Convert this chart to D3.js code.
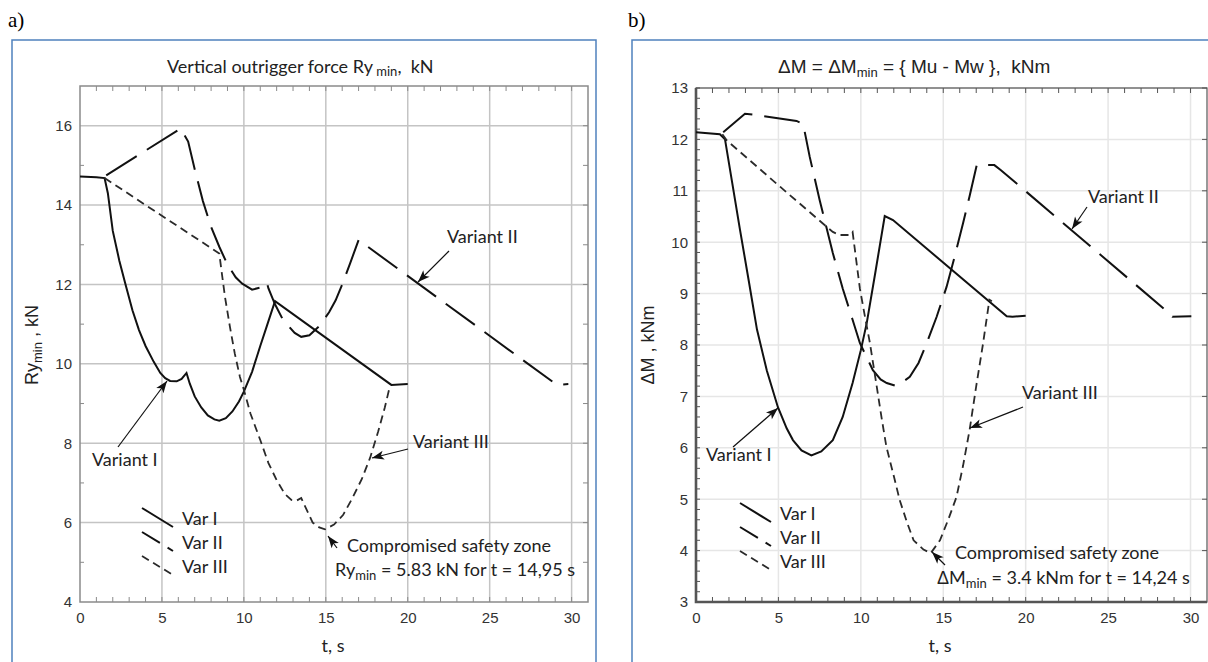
<!DOCTYPE html>
<html>
<head>
<meta charset="utf-8">
<script src="https://cdn.jsdelivr.net/npm/d3@7"></script>
<style>
  body { margin: 0; background: #fff; }
  text { white-space: pre; }
</style>
</head>
<body>
<svg id="chart" width="1208" height="662"></svg>
<script>
// ---- data: [t (s), value] ----
const xTicks = [0, 5, 10, 15, 20, 25, 30];
const yTicksA = [4, 6, 8, 10, 12, 14, 16];
const yTicksB = [3, 4, 5, 6, 7, 8, 9, 10, 11, 12, 13];

// a) Ry_min, kN
const ryVar1 = [[0,14.72],[1.0,14.70],[1.5,14.68],[1.7,14.3],[2.0,13.35],[2.4,12.6],[2.75,12.04],[3.2,11.35],[3.6,10.85],
  [4.0,10.45],[4.5,10.05],[4.9,9.77],[5.2,9.64],[5.5,9.57],[5.9,9.56],[6.2,9.62],[6.5,9.77],[6.7,9.5],[7.0,9.18],[7.4,8.9],
  [7.8,8.7],[8.2,8.6],[8.5,8.57],[8.9,8.63],[9.3,8.8],[9.7,9.05],[10.0,9.3],[10.5,9.8],[11.0,10.45],[11.4,10.95],[11.9,11.58],
  [19.0,9.47],[20.0,9.49]];
const ryVar2 = [[1.6,14.75],[6.15,15.93],[6.6,15.6],[7.0,14.9],[7.5,14.1],[8.0,13.45],[8.5,12.95],[9.0,12.5],[9.5,12.18],
  [9.9,12.02],[10.5,11.87],[11.0,11.92],[11.4,12.05],[11.5,11.9],[11.9,11.5],[12.4,11.1],[13.1,10.78],[13.5,10.68],[14.0,10.72],
  [14.6,10.95],[15.2,11.3],[15.6,11.6],[16.0,12.0],[16.5,12.55],[17.0,13.12],[29.1,9.47],[29.8,9.49]];
const ryVar3 = [[1.5,14.68],[8.5,12.78],[8.65,12.3],[8.85,11.68],[9.15,10.93],[9.45,10.25],[9.76,9.67],[10.0,9.35],[10.4,8.75],
  [11.0,8.08],[11.5,7.5],[12.0,7.07],[12.5,6.72],[12.9,6.57],[13.2,6.55],[13.5,6.62],[13.8,6.35],[14.2,6.0],[14.6,5.88],
  [14.95,5.83],[15.5,5.95],[16.05,6.19],[16.6,6.6],[17.2,7.1],[17.7,7.63],[18.2,8.3],[18.6,8.9],[18.9,9.42]];

// b) dM, kNm
const dmVar1 = [[0,12.14],[1.45,12.1],[1.76,12.0],[2.2,11.15],[2.67,10.24],[3.2,9.25],[3.7,8.3],[4.3,7.5],[4.97,6.79],
  [5.5,6.38],[5.88,6.15],[6.4,5.95],[7.0,5.85],[7.6,5.93],[8.3,6.15],[8.9,6.6],[9.5,7.26],[10.0,7.9],[10.36,8.43],[10.9,9.45],
  [11.45,10.51],[11.95,10.43],[18.85,8.56],[19.2,8.55],[20.0,8.57]];
const dmVar2 = [[1.65,12.14],[2.97,12.5],[3.5,12.48],[6.1,12.36],[6.5,12.3],[6.9,11.66],[7.5,10.82],[8.3,9.79],[8.9,9.1],
  [9.5,8.49],[9.94,8.04],[10.73,7.51],[11.2,7.33],[11.57,7.26],[12.06,7.21],[12.5,7.27],[12.97,7.38],[13.5,7.65],[14.0,8.04],
  [14.6,8.55],[15.2,9.13],[15.7,9.73],[16.2,10.37],[16.6,10.9],[17.03,11.5],[18.1,11.5],[18.5,11.4],[28.7,8.62],[28.9,8.55],
  [30.05,8.56]];
const dmVar3 = [[1.6,12.1],[1.87,11.98],[5.1,11.08],[7.93,10.3],[8.3,10.2],[8.7,10.14],[9.3,10.14],[9.5,10.2],[9.7,9.7],
  [9.94,9.1],[10.25,8.55],[10.55,8.04],[10.97,7.18],[11.25,6.6],[11.55,6.02],[12.0,5.45],[12.36,4.98],[12.8,4.55],[13.2,4.2],
  [13.8,4.02],[14.24,3.95],[14.8,4.2],[15.3,4.6],[15.8,5.04],[16.2,5.65],[16.6,6.35],[17.0,7.2],[17.4,8.0],[17.8,8.88],[17.95,8.85]];

const seriesNames = ["Var I", "Var II", "Var III"];

const svg = d3.select("#chart");
const sans = "'Liberation Sans', Arial, sans-serif";
const cal = "Lato, 'Open Sans', sans-serif";

svg.append("defs").append("marker")
    .attr("id", "arr").attr("viewBox", "0 0 12 10")
    .attr("refX", 12).attr("refY", 5)
    .attr("markerWidth", 13).attr("markerHeight", 10)
    .attr("markerUnits", "userSpaceOnUse").attr("orient", "auto")
  .append("path").attr("d", "M0,0.5 L12,5 L0,9.5 L3,5 z").attr("fill", "#111");

const styles = [
    {dash: null, w: 2, c: "#111"},
    {dash: "36,12", w: 2, c: "#111"},
    {dash: "8,5", w: 1.8, c: "#2a2a2a"}
];

function panel(p) {
    const x = d3.scaleLinear().domain([0, 31]).range([p.x0, p.x1]);
    const y = d3.scaleLinear().domain(p.yDom).range([602, p.y1]);
    const g = svg.append("g");

    // outer blue box
    g.append("rect").attr("x", p.bx).attr("y", 40).attr("width", p.bw).attr("height", 640)
        .attr("fill", "none").attr("stroke", "#4f81bd").attr("stroke-width", 1.5);

    g.append("text").attr("x", p.bx - 4).attr("y", 27).text(p.tag)
        .attr("font-family", "'Liberation Serif', serif").attr("font-size", 21);

    // grid
    g.append("g").selectAll("line").data(xTicks.filter(d => d > 0)).join("line")
        .attr("x1", x).attr("x2", x).attr("y1", 602).attr("y2", p.y1)
        .attr("stroke", p.grid).attr("stroke-width", 1.5);
    g.append("g").selectAll("line").data(p.yTicks.slice(1)).join("line")
        .attr("x1", p.x0).attr("x2", p.x1).attr("y1", y).attr("y2", y)
        .attr("stroke", p.grid).attr("stroke-width", 1.5);

    // minor ticks
    const tk = g.append("g").attr("stroke", p.frame).attr("stroke-width", 1);
    const xm = d3.range(1, 31);
    tk.selectAll(".tb").data(xm).join("line").attr("class", "tb")
        .attr("x1", x).attr("x2", x).attr("y1", 602).attr("y2", 597);
    tk.selectAll(".tt").data(xm).join("line").attr("class", "tt")
        .attr("x1", x).attr("x2", x).attr("y1", p.y1).attr("y2", p.y1 + 5);
    tk.selectAll(".tl").data(p.leftMinor).join("line").attr("class", "tl")
        .attr("x1", p.x0).attr("x2", p.x0 + 4).attr("y1", y).attr("y2", y);
    tk.selectAll(".tr").data(p.rightMinor).join("line").attr("class", "tr")
        .attr("x1", p.x1).attr("x2", p.x1 - 5).attr("y1", y).attr("y2", y);

    // frame
    g.append("rect").attr("x", p.x0).attr("y", p.y1).attr("width", p.x1 - p.x0).attr("height", 602 - p.y1)
        .attr("fill", "none").attr("stroke", p.frame).attr("stroke-width", p.fw);
    if (p.thick) {
        g.append("path").attr("d", `M${p.x0},${p.y1}V602H${p.x1}`)
            .attr("fill", "none").attr("stroke", p.frame).attr("stroke-width", 2.6);
    }

    // tick labels
    const ax = g.append("g").attr("transform", "translate(0,602)")
        .call(d3.axisBottom(x).tickValues(xTicks).tickSize(0).tickPadding(10));
    const ay = g.append("g").attr("transform", `translate(${p.x0},0)`)
        .call(d3.axisLeft(y).tickValues(p.yTicks).tickSize(0).tickPadding(8));
    [ax, ay].forEach(a => {
        a.select(".domain").remove();
        a.selectAll("text").attr("font-family", sans).attr("font-size", 15).attr("fill", "#333");
    });

    // series
    const line = d3.line().x(d => x(d[0])).y(d => y(d[1]));
    p.series.forEach((s, i) => {
        g.append("path").attr("d", line(s)).attr("fill", "none")
            .attr("stroke", styles[i].c).attr("stroke-width", styles[i].w)
            .attr("stroke-dasharray", styles[i].dash);
    });

    // legend (slanted samples)
    const lg = g.append("g");
    seriesNames.forEach((n, i) => {
        const yy = p.ly + i * 24;
        lg.append("line").attr("x1", p.lx).attr("y1", yy - 11).attr("x2", p.lx + 31).attr("y2", yy + 8)
            .attr("stroke", styles[i].c).attr("stroke-width", styles[i].w)
            .attr("stroke-dasharray", i === 1 ? "21,9" : styles[i].dash);
        lg.append("text").attr("x", p.lx + 40).attr("y", yy + 6).text(n)
            .attr("font-family", cal).attr("font-size", 18).attr("fill", "#222");
    });

    // annotations
    p.notes.forEach(n => {
        g.append("line").attr("x1", n.a[0]).attr("y1", n.a[1]).attr("x2", n.a[2]).attr("y2", n.a[3])
            .attr("stroke", "#111").attr("stroke-width", 1.2).attr("marker-end", "url(#arr)");
        g.append("text").attr("x", n.tx).attr("y", n.ty).text(n.t)
            .attr("font-family", cal).attr("font-size", 18).attr("fill", "#222");
    });

    return g;
}

// ---- panel a ----
const ga = panel({
    tag: "a)", bx: 12, bw: 584,
    x0: 80, x1: 588, y1: 86, yDom: [4, 17], yTicks: yTicksA,
    leftMinor: [5, 7, 9, 11, 13, 15], rightMinor: [5, 7, 9, 11, 13, 15, 16, 14, 12, 10, 8, 6],
    grid: "#c4c4c4", frame: "#8a8a8a", fw: 1.5, thick: false,
    series: [ryVar1, ryVar2, ryVar3],
    lx: 142, ly: 519,
    notes: [
        {t: "Variant I", tx: 92, ty: 466, a: [118, 447, 167, 381]},
        {t: "Variant II", tx: 447, ty: 243, a: [449, 251, 418, 282]},
        {t: "Variant III", tx: 413, ty: 448, a: [408, 449, 372, 458]},
        {t: "Compromised safety zone", tx: 347, ty: 552, a: [337, 548, 328, 536]}
    ]
});
ga.append("text").attr("x", 335).attr("y", 576).attr("font-family", cal).attr("font-size", 18).attr("fill", "#222")
    .call(t => {
        t.append("tspan").text("Ry");
        t.append("tspan").attr("font-size", 13).attr("dy", 4).text("min");
        t.append("tspan").attr("dy", -4).text(" = 5.83 kN for t = 14,95 s");
    });
ga.append("text").attr("x", 167).attr("y", 73).attr("font-family", cal).attr("font-size", 18).attr("fill", "#222")
    .call(t => {
        t.append("tspan").text("Vertical outrigger force Ry");
        t.append("tspan").attr("font-size", 13).attr("dy", 3).text(" min");
        t.append("tspan").attr("dy", -3).text(",  kN");
    });
ga.append("text").attr("transform", "translate(38,345) rotate(-90)").attr("text-anchor", "middle")
    .attr("font-family", sans).attr("font-size", 18).attr("fill", "#222")
    .call(t => {
        t.append("tspan").text("Ry");
        t.append("tspan").attr("font-size", 13).attr("dy", 4).text("min");
        t.append("tspan").attr("dy", -4).text(" , kN");
    });
ga.append("text").attr("x", 333).attr("y", 652).attr("text-anchor", "middle")
    .attr("font-family", cal).attr("font-size", 18).attr("fill", "#222").text("t, s");

// ---- panel b ----
const gb = panel({
    tag: "b)", bx: 632, bw: 600,
    x0: 696, x1: 1207, y1: 88, yDom: [3, 13], yTicks: yTicksB,
    leftMinor: d3.range(3, 13.01, 0.2), rightMinor: yTicksB,
    grid: "#e6e6e6", frame: "#555", fw: 1.2, thick: true,
    series: [dmVar1, dmVar2, dmVar3],
    lx: 740, ly: 514,
    notes: [
        {t: "Variant I", tx: 706, ty: 461, a: [733, 447, 778, 408]},
        {t: "Variant II", tx: 1088, ty: 203, a: [1087, 207, 1072, 229]},
        {t: "Variant III", tx: 1022, ty: 399, a: [1023, 407, 970, 428]},
        {t: "Compromised safety zone", tx: 955, ty: 559, a: [945, 565, 932, 552]}
    ]
});
gb.append("text").attr("x", 937).attr("y", 584).attr("font-family", cal).attr("font-size", 18).attr("fill", "#222")
    .call(t => {
        t.append("tspan").attr("font-family", sans).text("\u0394");
        t.append("tspan").text("M");
        t.append("tspan").attr("font-size", 13).attr("dy", 4).text("min");
        t.append("tspan").attr("dy", -4).text(" = 3.4 kNm for t = 14,24 s");
    });
gb.append("text").attr("x", 778).attr("y", 73).attr("font-family", sans).attr("font-size", 19).attr("fill", "#222")
    .call(t => {
        t.append("tspan").text("\u0394M = \u0394M");
        t.append("tspan").attr("font-size", 13).attr("dy", 4).text("min");
        t.append("tspan").attr("dy", -4).text(" = { Mu - Mw },  kNm");
    });
gb.append("text").attr("transform", "translate(654,345) rotate(-90)").attr("text-anchor", "middle")
    .attr("font-family", sans).attr("font-size", 18).attr("fill", "#222").text("\u0394M , kNm");
gb.append("text").attr("x", 940).attr("y", 652).attr("text-anchor", "middle")
    .attr("font-family", cal).attr("font-size", 18).attr("fill", "#222").text("t, s");
</script>
</body>
</html>
